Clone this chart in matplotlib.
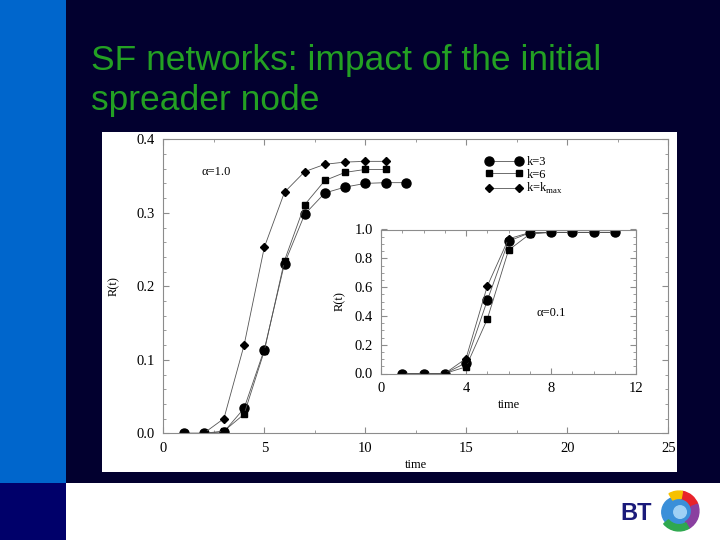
import matplotlib.pyplot as plt
from matplotlib.patches import Rectangle, Wedge, Circle
from matplotlib.ticker import MultipleLocator, FormatStrFormatter

# main panel, alpha = 1.0
t_k3 = [1, 2, 3, 4, 5, 6, 7, 8, 9, 10, 11, 12]
r_k3 = [0.0, 0.0, 0.002, 0.034, 0.114, 0.231, 0.298, 0.327, 0.335, 0.340, 0.341, 0.341]
t_k6 = [1, 2, 3, 4, 5, 6, 7, 8, 9, 10, 11]
r_k6 = [0.0, 0.0, 0.003, 0.026, 0.112, 0.235, 0.311, 0.344, 0.355, 0.359, 0.359]
t_kmax = [1, 2, 3, 4, 5, 6, 7, 8, 9, 10, 11]
r_kmax = [0.0, 0.0, 0.020, 0.120, 0.253, 0.328, 0.356, 0.366, 0.369, 0.370, 0.370]

# inset panel, alpha = 0.1
ti = [1, 2, 3, 4, 5, 6, 7, 8, 9, 10, 11]
ri_k3 = [0.0, 0.0, 0.0, 0.074, 0.507, 0.919, 0.977, 0.98, 0.98, 0.98, 0.98]
ri_k6 = [0.0, 0.0, 0.0, 0.046, 0.377, 0.856, 0.968, 0.98, 0.98, 0.98, 0.98]
ri_kmax = [0.0, 0.0, 0.0, 0.104, 0.606, 0.935, 0.979, 0.98, 0.98, 0.98, 0.98]

labels = ["k=3", "k=6", r"k=k$_{\mathregular{max}}$"]

NAVY = "#02002f"
BLUE = "#0066cc"
GREEN = "#23a023"
SERIF = ["Liberation Serif", "DejaVu Serif"]

plt.rcParams["font.family"] = SERIF
plt.rcParams["mathtext.fontset"] = "custom"
plt.rcParams["mathtext.rm"] = "Liberation Serif"

fig = plt.figure(figsize=(7.2, 5.4), dpi=100)
fig.patch.set_facecolor("white")

# slide background
fig.patches.append(Rectangle((0, 1 - 483 / 540), 1, 483 / 540, transform=fig.transFigure,
                             facecolor=NAVY, edgecolor="none", zorder=-10))
fig.patches.append(Rectangle((0, 1 - 483 / 540), 66 / 720, 483 / 540, transform=fig.transFigure,
                             facecolor=BLUE, edgecolor="none", zorder=-9))
fig.patches.append(Rectangle((0, 0), 66 / 720, 1 - 483 / 540, transform=fig.transFigure,
                             facecolor="#00006a", edgecolor="none", zorder=-9))
# white picture of the chart
fig.patches.append(Rectangle((102 / 720, 1 - 472 / 540), 575 / 720, 340 / 540,
                             transform=fig.transFigure, facecolor="white",
                             edgecolor="none", zorder=-8))

fig.text(91 / 720, 1 - 70 / 540, "SF networks: impact of the initial",
         fontsize=25.5, color=GREEN, family="Liberation Sans", va="baseline")
fig.text(91 / 720, 1 - 110 / 540, "spreader node",
         fontsize=25.5, color=GREEN, family="Liberation Sans", va="baseline")

# BT logo
fig.text(620 / 720, 1 - 514 / 540, "BT", fontsize=17, fontweight="bold",
         color="#1a1a7a", family="Liberation Sans", va="center")
logo = fig.add_axes([658 / 720, 1 - 532 / 540, 42 / 720, 42 / 540])
logo.set_xlim(-1, 1)
logo.set_ylim(-1, 1)
logo.set_aspect("equal")
logo.axis("off")
logo.add_patch(Circle((-0.1, -0.05), 0.72, color="#3a8fd9"))
logo.add_patch(Wedge((0, 0), 0.95, 20, 80, width=0.35, color="#e8232a"))
logo.add_patch(Wedge((0, 0), 0.95, 80, 120, width=0.35, color="#f7c100"))
logo.add_patch(Wedge((0, 0), 0.95, -60, 20, width=0.35, color="#8a3fa0"))
logo.add_patch(Wedge((0, 0), 0.95, 220, 300, width=0.3, color="#2fa84f"))
logo.add_patch(Circle((0.05, -0.05), 0.3, color="#9fd0f5"))


def style_axes(ax, xmaj, xmin, ymaj, ymin):
    for s in ax.spines.values():
        s.set_color("#8c8c8c")
        s.set_linewidth(0.8)
    ax.xaxis.set_major_locator(MultipleLocator(xmaj))
    ax.xaxis.set_minor_locator(MultipleLocator(xmin))
    ax.yaxis.set_major_locator(MultipleLocator(ymaj))
    ax.yaxis.set_minor_locator(MultipleLocator(ymin))
    ax.xaxis.set_major_formatter(FormatStrFormatter("%d"))
    ax.yaxis.set_major_formatter(FormatStrFormatter("%.1f"))
    ax.tick_params(which="both", direction="in", top=True, right=True,
                   color="#8c8c8c", labelsize=10.5, pad=6)
    ax.tick_params(which="major", length=4)
    ax.tick_params(which="minor", length=2)


line_kw = dict(color="#555555", linewidth=0.6, markeredgecolor="black",
               markerfacecolor="black")

# main axes
ax = fig.add_axes([163.3 / 720, 1 - 433.3 / 540, 505 / 720, 294 / 540])
ax.plot(t_k3, r_k3, marker="o", markersize=6.5, label=labels[0], **line_kw)
ax.plot(t_k6, r_k6, marker="s", markersize=5, label=labels[1], **line_kw)
ax.plot(t_kmax, r_kmax, marker="D", markersize=4, label=labels[2], **line_kw)
ax.set_xlim(0, 25)
ax.set_ylim(0, 0.4)
style_axes(ax, 5, 2.5, 0.1, 0.02)
ax.set_xlabel("time", fontsize=9, labelpad=3)
ax.set_ylabel("R(t)", fontsize=9, labelpad=12)
ax.text(0.075, 0.88, "\u03b1=1.0", transform=ax.transAxes, fontsize=9)
ax.legend(loc="upper left", bbox_to_anchor=(0.615, 0.98), frameon=False,
          handlelength=3.0, handletextpad=0.3, labelspacing=0.02,
          numpoints=2, prop={"family": SERIF, "size": 9})

# inset axes
axi = fig.add_axes([381 / 720, 1 - 373.5 / 540, 255 / 720, 144 / 540])
axi.plot(ti, ri_k3, marker="o", markersize=6.5, **line_kw)
axi.plot(ti, ri_k6, marker="s", markersize=5, **line_kw)
axi.plot(ti, ri_kmax, marker="D", markersize=4, **line_kw)
axi.set_xlim(0, 12)
axi.set_ylim(0, 1.0)
style_axes(axi, 4, 1, 0.2, 0.05)
axi.set_xlabel("time", fontsize=9, labelpad=3)
axi.set_ylabel("R(t)", fontsize=9, labelpad=6)
axi.text(0.61, 0.4, "\u03b1=0.1", transform=axi.transAxes, fontsize=9)

fig.savefig("out.png", dpi=100, facecolor=fig.get_facecolor())
